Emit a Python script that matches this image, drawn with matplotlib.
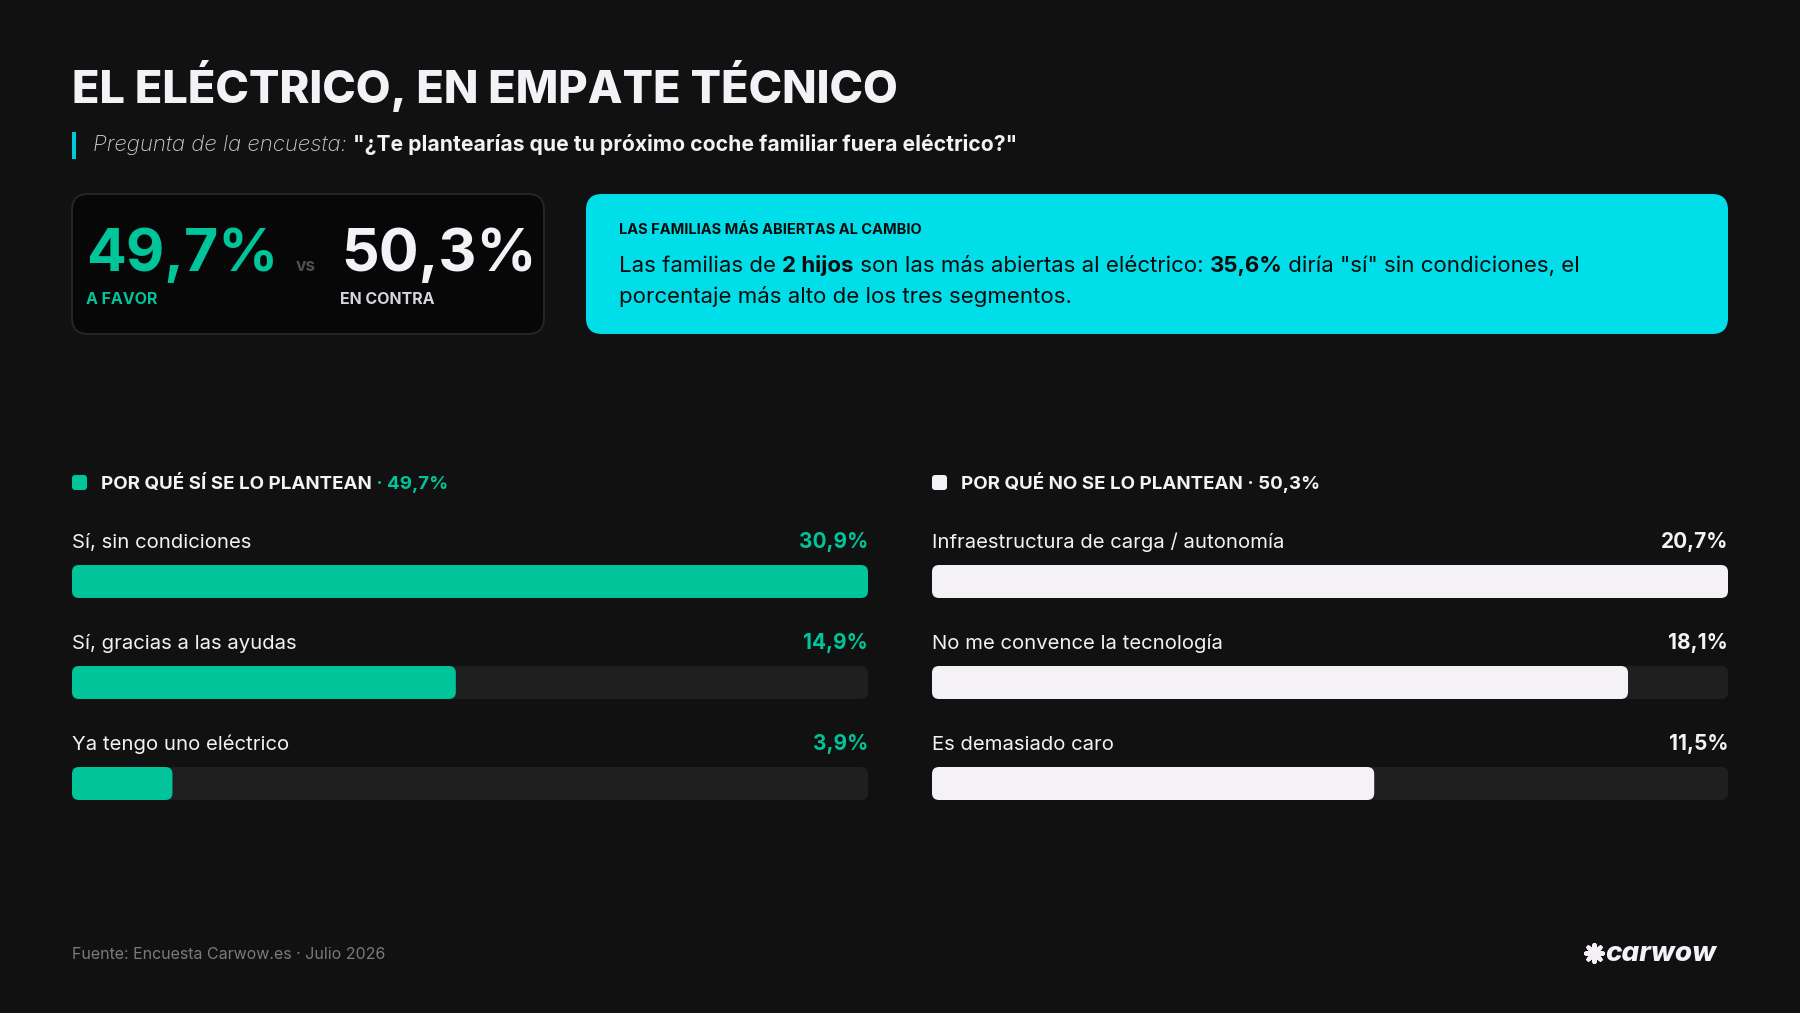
import matplotlib
matplotlib.use("Agg")
import matplotlib.pyplot as plt
from matplotlib.patches import FancyBboxPatch, Rectangle

# ---------------- data ----------------
title = "EL ELÉCTRICO, EN EMPATE TÉCNICO"
question_label = "Pregunta de la encuesta:"
question_text = "\"¿Te plantearías que tu próximo coche familiar fuera eléctrico?\""
favor_pct = "49,7%"
contra_pct = "50,3%"
favor_label = "A FAVOR"
contra_label = "EN CONTRA"
callout_title = "LAS FAMILIAS MÁS ABIERTAS AL CAMBIO"
callout_line1 = [("Las familias de ", "normal"), ("2 hijos", "bold"),
                 (" son las más abiertas al eléctrico: ", "normal"),
                 ("35,6%", "bold"), (" diría \"sí\" sin condiciones, el", "normal")]
callout_line2 = [("porcentaje más alto de los tres segmentos.", "normal")]

yes_header = "POR QUÉ SÍ SE LO PLANTEAN"
yes_total = "49,7%"
yes_labels = ["Sí, sin condiciones", "Sí, gracias a las ayudas", "Ya tengo uno eléctrico"]
yes_values = [30.9, 14.9, 3.9]

no_header = "POR QUÉ NO SE LO PLANTEAN"
no_total = "50,3%"
no_labels = ["Infraestructura de carga / autonomía", "No me convence la tecnología", "Es demasiado caro"]
no_values = [20.7, 18.1, 11.5]

footer = "Fuente: Encuesta Carwow.es · Julio 2026"
logo = "carwow"

# ---------------- style ----------------
W, H = 1800, 1013
BG = "#111111"
GREEN = "#00C49A"
WHITE = "#F4F1F7"
CYAN = "#00DEEA"
TRACK = "#1F1F1F"
FONT = ["Inter", "DejaVu Sans"]
plt.rcParams["font.family"] = FONT

fig = plt.figure(figsize=(W / 100, H / 100), dpi=100, facecolor=BG)
bg = fig.add_axes([0, 0, 1, 1])
bg.set_xlim(0, W)
bg.set_ylim(H, 0)
bg.axis("off")
bg.set_facecolor(BG)
fig.canvas.draw()
renderer = fig.canvas.get_renderer()


def runs(x, y, parts, size, color, va="baseline", style="normal"):
    for txt, weight in parts:
        t = bg.text(x, y, txt, fontsize=size, fontweight=weight, color=color,
                    va=va, ha="left", fontstyle=style)
        bb = t.get_window_extent(renderer)
        x += bb.width
    return x


# title
bg.text(72, 103, title, fontsize=32.5, fontweight="heavy", color=WHITE, va="baseline")

# question
bg.add_patch(Rectangle((72, 132), 3.5, 27, color="#00C9DF", lw=0))
t = bg.text(93, 151, question_label, fontsize=16, color="#CFCBD3", fontstyle="italic",
            fontweight="light", va="baseline")
xq = 93 + t.get_window_extent(renderer).width + 6
bg.text(xq, 151, question_text, fontsize=15.2, color=WHITE, fontweight="bold", va="baseline")

# stats box
bg.add_patch(FancyBboxPatch((72, 194), 472, 140, boxstyle="round,pad=0,rounding_size=16",
                            fc="#070707", ec="#2A2A2A", lw=1.2))
bg.text(86, 271, favor_pct, fontsize=42.5, fontweight="bold", color=GREEN, va="baseline")
bg.text(296, 271, "vs", fontsize=12.5, fontweight="bold", color="#4E4E4E", va="baseline")
bg.text(341, 271, contra_pct, fontsize=42.5, fontweight="bold", color=WHITE, va="baseline")
bg.text(86, 304, favor_label, fontsize=11.5, fontweight="bold", color=GREEN, va="baseline")
bg.text(340, 304, contra_label, fontsize=11.5, fontweight="bold", color="#D8D4DC", va="baseline")

# callout
bg.add_patch(FancyBboxPatch((586, 194), 1142, 140, boxstyle="round,pad=0,rounding_size=16",
                            fc=CYAN, ec="none"))
bg.text(619, 234, callout_title, fontsize=10.5, fontweight="bold", color="#0B0B0B", va="baseline")
runs(619, 272, callout_line1, 16.0, "#0B0B0B")
runs(619, 303, callout_line2, 16.0, "#0B0B0B")


def panel(x0, x1, header, total, color, total_color, labels, values, value_color):
    # header
    bg.add_patch(FancyBboxPatch((x0, 475), 15, 15, boxstyle="round,pad=0,rounding_size=3",
                                fc=color, ec="none"))
    xe = runs(x0 + 29, 489, [(header, "bold")], 13.5, WHITE)
    runs(xe, 489, [(" · " + total, "bold")], 13.5, total_color)

    # bar axes
    top_px, bot_px = 500, 820
    ax = fig.add_axes([x0 / W, 1 - bot_px / H, (x1 - x0) / W, (bot_px - top_px) / H])
    ax.set_facecolor("none")
    ax.axis("off")
    vmax = max(values)
    pitch = 101.0
    c0 = 581.5
    ax.set_xlim(0, vmax)
    ax.set_ylim((bot_px - c0) / pitch, (top_px - c0) / pitch)
    ux = vmax / (x1 - x0)
    uy = 1.0 / pitch
    bh = 33.0 / pitch
    r = 7 * ux
    asp = uy / ux
    ys = list(range(len(values)))
    tracks = ax.barh(ys, [vmax] * len(values), height=bh, color=TRACK)
    bars = ax.barh(ys, values, height=bh, color=color)
    for cont, fc in ((tracks, TRACK), (bars, color)):
        for rect in cont:
            rect.set_visible(False)
            p = FancyBboxPatch((rect.get_x(), rect.get_y()), rect.get_width(), rect.get_height(),
                               boxstyle=f"round,pad=0,rounding_size={r}", mutation_aspect=asp,
                               fc=fc, ec="none")
            ax.add_patch(p)
    for i, (lab, v) in enumerate(zip(labels, values)):
        ax.text(0, i - 0.335, lab, fontsize=14.6, color=WHITE, va="baseline", ha="left")
        ax.text(vmax, i - 0.335, f"{v:.1f}%".replace(".", ","), fontsize=15, fontweight="bold",
                color=value_color, va="baseline", ha="right")


panel(72, 868, yes_header, yes_total, GREEN, GREEN, yes_labels, yes_values, GREEN)
panel(932, 1728, no_header, no_total, WHITE, WHITE, no_labels, no_values, WHITE)

# footer
bg.text(72, 959, footer, fontsize=11.5, color="#7A7A7A", va="baseline")
bg.scatter([1594], [953], marker=(8, 2, 0), s=150, color=WHITE, linewidths=3)
bg.text(1605, 961, logo, fontsize=20, fontweight="heavy", fontstyle="italic", color=WHITE,
        va="baseline")

fig.savefig("out.png", dpi=100, facecolor=BG)
